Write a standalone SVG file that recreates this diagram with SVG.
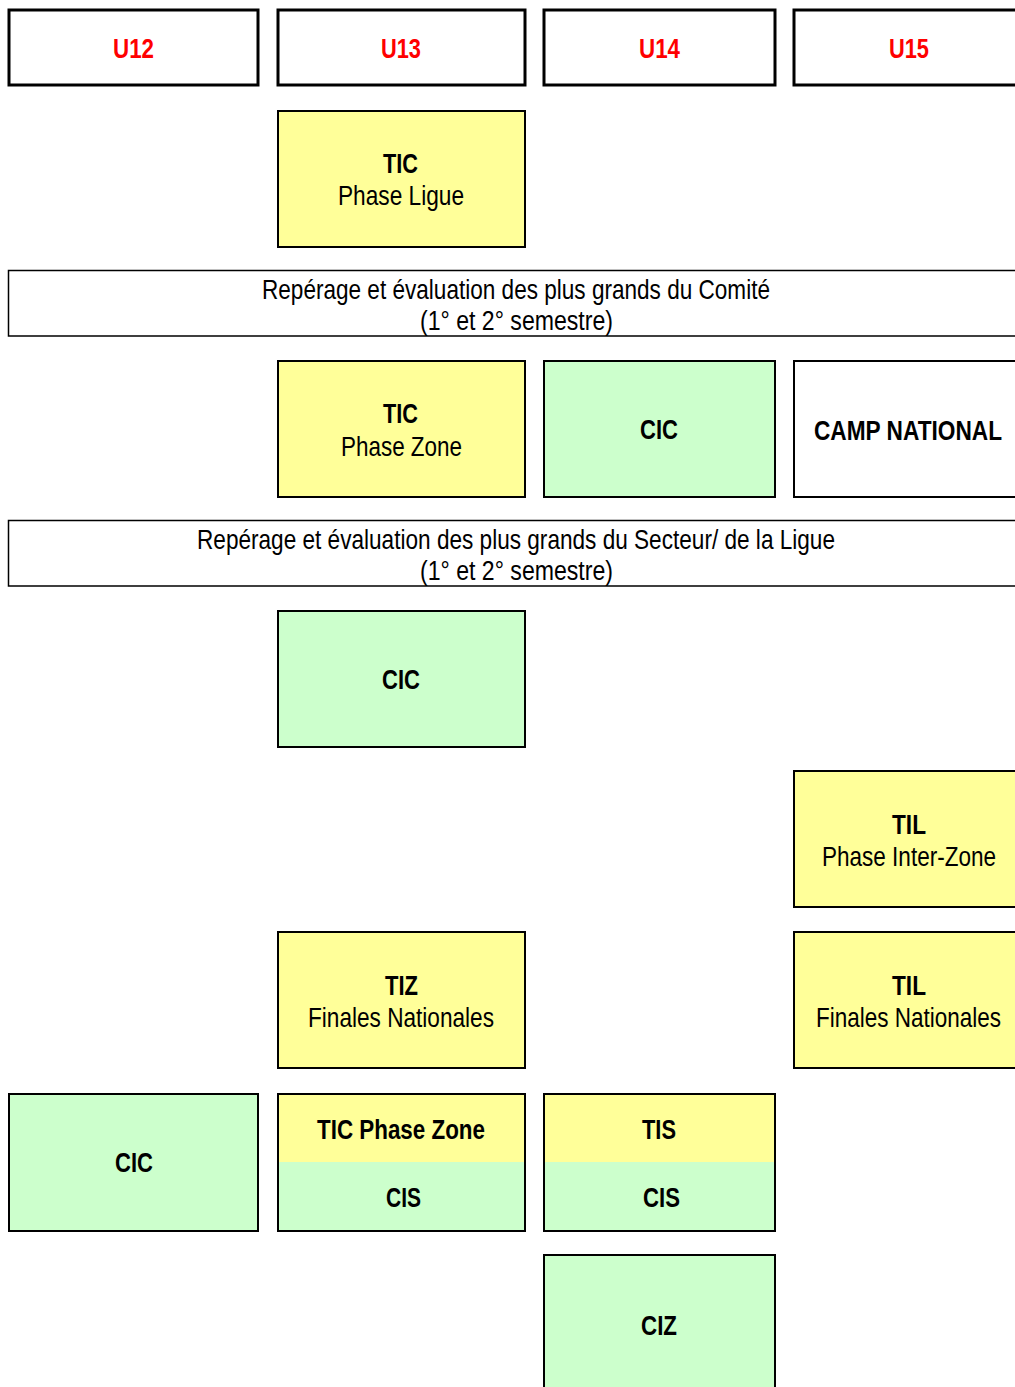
<svg xmlns="http://www.w3.org/2000/svg" width="1015" height="1387" viewBox="0 0 1015 1387">
<style>
text{font-family:"Liberation Sans Narrow","Liberation Sans",Arial,sans-serif;font-size:27.5px;fill:#000;text-anchor:middle}
.b{font-weight:bold}
.h{font-weight:bold;fill:#FF0000}
.hd{fill:#fff;stroke:#000;stroke-width:3}
.y{fill:#FFFF99;stroke:#000;stroke-width:2}
.g{fill:#CCFFCC;stroke:#000;stroke-width:2}
.w{fill:#fff;stroke:#000;stroke-width:2}
.bn{fill:#fff;stroke:#000;stroke-width:1.5}
.fy{fill:#FFFF99}
.fg{fill:#CCFFCC}
.fw{fill:#fff}
.o2{fill:none;stroke:#000;stroke-width:2}
.o3{fill:none;stroke:#000;stroke-width:3}
</style>
<rect width="1015" height="1387" fill="#fff"/>
<g id="u12"><rect class="hd" x="9" y="10" width="249" height="75"/><text class="h" x="133.5" y="58" textLength="41" lengthAdjust="spacingAndGlyphs">U12</text></g>
<g id="u13"><rect class="hd" x="278" y="10" width="247" height="75"/><text class="h" x="401" y="58" textLength="40" lengthAdjust="spacingAndGlyphs">U13</text></g>
<g id="u14"><rect class="hd" x="544" y="10" width="231" height="75"/><text class="h" x="659.5" y="58" textLength="41" lengthAdjust="spacingAndGlyphs">U14</text></g>
<g id="u15"><rect class="fw" x="794" y="10" width="221" height="75"/><path class="o3" d="M1015,10 H794 V85 H1015"/><text class="h" x="909" y="58" textLength="40" lengthAdjust="spacingAndGlyphs">U15</text></g>

<g id="tic-ligue"><rect class="y" x="278" y="111" width="247" height="136"/><text class="b" x="400.5" y="173" textLength="35" lengthAdjust="spacingAndGlyphs">TIC</text><text x="401" y="205" textLength="126" lengthAdjust="spacingAndGlyphs">Phase Ligue</text></g>

<g id="banner-comite"><rect class="fw" x="8.5" y="270.5" width="1006.5" height="65.5"/><path class="bn" fill="none" d="M1015,270.5 H8.5 V336 H1015"/><text x="516" y="299" textLength="508" lengthAdjust="spacingAndGlyphs">Repérage et évaluation des plus grands du Comité</text><text x="516.5" y="330" textLength="193" lengthAdjust="spacingAndGlyphs">(1° et 2° semestre)</text></g>

<g id="tic-zone"><rect class="y" x="278" y="361" width="247" height="136"/><text class="b" x="400.5" y="423" textLength="35" lengthAdjust="spacingAndGlyphs">TIC</text><text x="401.5" y="456" textLength="121" lengthAdjust="spacingAndGlyphs">Phase Zone</text></g>
<g id="cic-u14"><rect class="g" x="544" y="361" width="231" height="136"/><text class="b" x="659" y="439" textLength="38" lengthAdjust="spacingAndGlyphs">CIC</text></g>
<g id="camp-national"><rect class="fw" x="794" y="361" width="221" height="136"/><path class="o2" d="M1015,361 H794 V497 H1015"/><text class="b" transform="translate(908,440) scale(0.8,1)" x="0" y="0" textLength="235" lengthAdjust="spacingAndGlyphs">CAMP NATIONAL</text></g>

<g id="banner-secteur"><rect class="fw" x="8.5" y="520.5" width="1006.5" height="65.5"/><path class="bn" fill="none" d="M1015,520.5 H8.5 V586 H1015"/><text x="516" y="549" textLength="638" lengthAdjust="spacingAndGlyphs">Repérage et évaluation des plus grands du Secteur/ de la Ligue</text><text x="516.5" y="580" textLength="193" lengthAdjust="spacingAndGlyphs">(1° et 2° semestre)</text></g>

<g id="cic-u13"><rect class="g" x="278" y="611" width="247" height="136"/><text class="b" x="401" y="689" textLength="38" lengthAdjust="spacingAndGlyphs">CIC</text></g>

<g id="til-interzone"><rect class="fy" x="794" y="771" width="221" height="136"/><path class="o2" d="M1015,771 H794 V907 H1015"/><text class="b" x="909" y="834" textLength="34" lengthAdjust="spacingAndGlyphs">TIL</text><text transform="translate(909,866) scale(0.8,1)" x="0" y="0" textLength="217.5" lengthAdjust="spacingAndGlyphs">Phase Inter-Zone</text></g>

<g id="tiz-finales"><rect class="y" x="278" y="932" width="247" height="136"/><text class="b" x="401.5" y="995" textLength="33" lengthAdjust="spacingAndGlyphs">TIZ</text><text x="401" y="1027" textLength="186" lengthAdjust="spacingAndGlyphs">Finales Nationales</text></g>
<g id="til-finales"><rect class="fy" x="794" y="932" width="221" height="136"/><path class="o2" d="M1015,932 H794 V1068 H1015"/><text class="b" x="909" y="995" textLength="34" lengthAdjust="spacingAndGlyphs">TIL</text><text transform="translate(908.5,1027) scale(0.8,1)" x="0" y="0" textLength="231.25" lengthAdjust="spacingAndGlyphs">Finales Nationales</text></g>

<g id="cic-u12"><rect class="g" x="9" y="1094" width="249" height="137"/><text class="b" x="134" y="1172" textLength="38" lengthAdjust="spacingAndGlyphs">CIC</text></g>
<g id="tic-zone-cis"><rect class="fy" x="278" y="1094" width="247" height="68"/><rect class="fg" x="278" y="1162" width="247" height="69"/><rect class="o2" x="278" y="1094" width="247" height="137"/><text class="b" x="401" y="1139" textLength="168" lengthAdjust="spacingAndGlyphs">TIC Phase Zone</text><text class="b" x="403.5" y="1207" textLength="35" lengthAdjust="spacingAndGlyphs">CIS</text></g>
<g id="tis-cis"><rect class="fy" x="544" y="1094" width="231" height="68"/><rect class="fg" x="544" y="1162" width="231" height="69"/><rect class="o2" x="544" y="1094" width="231" height="137"/><text class="b" x="659" y="1139" textLength="34" lengthAdjust="spacingAndGlyphs">TIS</text><text class="b" x="661.5" y="1207" textLength="37" lengthAdjust="spacingAndGlyphs">CIS</text></g>
<g id="ciz"><rect class="fg" x="544" y="1255" width="231" height="132"/><path class="o2" d="M544,1387 V1255 H775 V1387"/><text class="b" x="659" y="1335" textLength="36" lengthAdjust="spacingAndGlyphs">CIZ</text></g>
<g id="connectors"/>
</svg>
